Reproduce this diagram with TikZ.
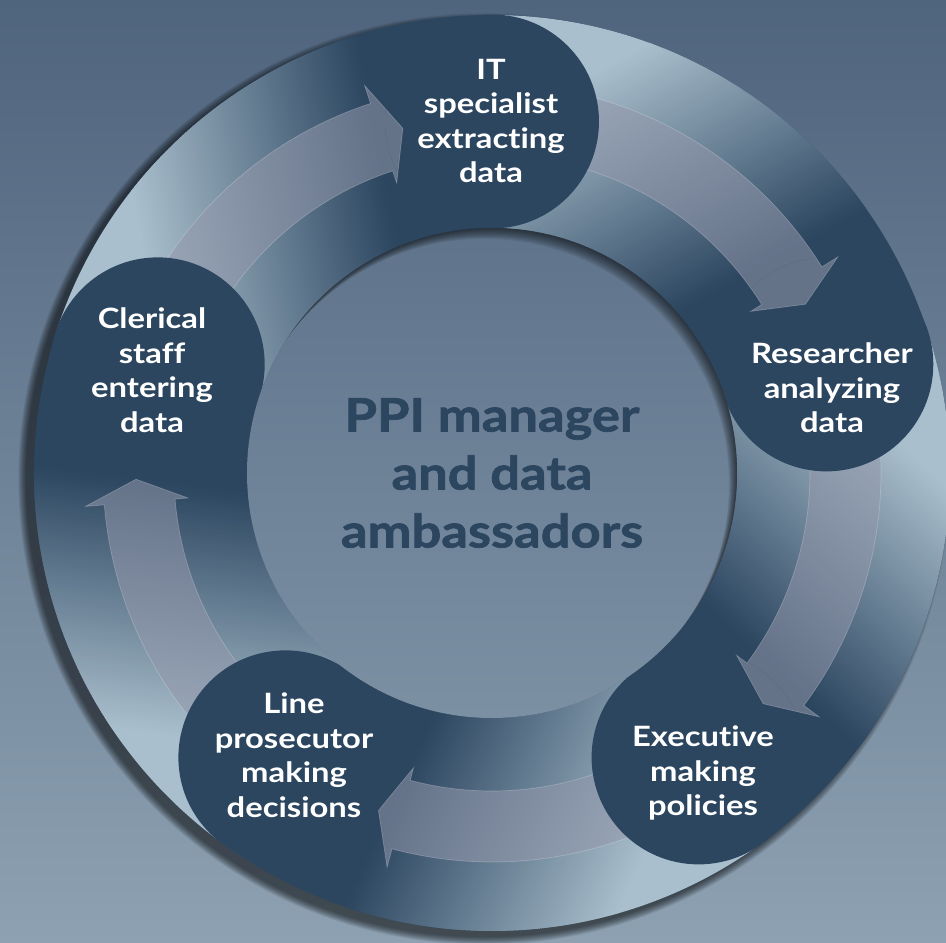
\documentclass[tikz,border=0pt]{standalone}
\usepackage{fontspec}
\setmainfont{Lato}[FakeStretch=1.17, Ligatures=NoCommon]
\newfontfamily\ctrfont{Lato}[FakeStretch=1.14, Ligatures=NoCommon, BoldFeatures={FakeBold=1.6}]
\usetikzlibrary{calc}
\definecolor{bgtop}{RGB}{79,100,125}
\definecolor{bgbot}{RGB}{141,161,178}
\definecolor{nodec}{RGB}{44,70,96}
\definecolor{bandlight}{RGB}{170,191,205}
\definecolor{disctop}{RGB}{95,116,139}
\definecolor{discbot}{RGB}{124,144,164}
\definecolor{arrowc}{RGB}{148,152,172}
\newcommand\arcarrowpath[2]{%
  ({#1-8}:389) arc[start angle={#1-8}, end angle={#2+3.7}, radius=389]
  -- ({#2+3.7}:408) -- (#2:356) -- ({#2+3.7}:305) -- ({#2+3.7}:318)
  arc[start angle={#2+3.7}, end angle={#1-8}, radius=318] -- cycle}
\begin{document}
\begin{tikzpicture}[x=1pt,y=1pt,
  lbl/.style={text=white, font=\bfseries\fontsize{28}{34.5}\selectfont, align=center, inner sep=0pt},
  ctr/.style={text=nodec, font=\ctrfont\bfseries\fontsize{46}{58}\selectfont, align=center, inner sep=0pt},
  stage/.style={circle, fill=nodec, minimum size=214pt, inner sep=0pt},
  arr/.style={fill=arrowc, fill opacity=0.55, draw=white, draw opacity=0.22, line width=0.7pt}]
\useasboundingbox (-492,-470) rectangle (454,473);
% background
\shade[top color=bgtop, bottom color=bgbot] (-492,-470) rectangle (454,473);
% outer shadow of the ring (falls to the lower left)
\foreach \k in {0,...,11}
  \fill[black, opacity=0.06] (-8,-6) circle ({458+0.7*\k});
% band segments with gradient
\foreach \sa in {90,18,-54,-126,-198} {
  \pgfmathsetmacro\se{\sa-72}
  \pgfmathsetmacro\Ax{458*cos(\sa-20)}
  \pgfmathsetmacro\Ay{458*sin(\sa-20)}
  \pgfmathsetmacro\Bx{351.5*cos(\se)}
  \pgfmathsetmacro\By{351.5*sin(\se)}
  \pgfmathsetmacro\glen{veclen(\Bx-\Ax,\By-\Ay)}
  \pgfmathsetmacro\gang{atan2(\By-\Ay,\Bx-\Ax)}
  \begin{scope}
    \clip (\sa:458) arc[start angle=\sa, end angle={\se-0.5}, radius=458]
      -- ({\se-0.5}:245) arc[start angle={\se-0.5}, end angle=\sa, radius=245] -- cycle;
    \begin{scope}[shift={(\Ax,\Ay)}, rotate=\gang]
      \fill[nodec] (-1000,-1000) rectangle (1000,1000);
      \fill[bandlight] (-1000,-1000) rectangle (1,1000);
      \foreach \k in {0,...,135} {
        \pgfmathsetmacro\tt{0.005*\k}
        \pgfmathsetmacro\pp{100*\tt/0.68}
        \fill[nodec!\pp!bandlight] ({\tt*\glen},-1000) rectangle ({(\tt+0.005)*\glen+1},1000);
      }
    \end{scope}
  \end{scope}
}
% arrows (full)
\foreach \sa/\tp in {90/28.3, 18/-40.4, -54/-108.6, -126/-179, -198/-255.5}
  \path[arr] \arcarrowpath{\sa}{\tp};
% stage circles
\node[stage] (n0) at (90:351.5) {};
\node[stage] (n1) at (18:351.5) {};
\node[stage] (n2) at (-54:351.5) {};
\node[stage] (n3) at (-126:351.5) {};
\node[stage] (n4) at (162:351.5) {};
% arrow heads over the next stage
\foreach \sa/\tp/\nx in {90/28.3/n1, 18/-40.4/n2, -54/-108.6/n3, -126/-179/n4, -198/-255.5/n0} {
  \begin{scope}
    \clip (\nx.center) circle (107);
    \path[arr] \arcarrowpath{\sa}{\tp};
  \end{scope}
}
% inner disc
\shade[top color=disctop, bottom color=discbot] (0,0) circle (245);
\begin{scope}
  \clip (0,0) circle (245);
  \foreach \k in {1,...,10}
    \fill[black, opacity=0.07, even odd rule] (0,0) circle (250) ({-0.8*\k},{-1.1*\k}) circle (245);
\end{scope}
% texts
\node[ctr] (ppi) at (0,0) {PPI manager\\and data\\ambassadors};
\node[lbl] (t0) at (-1,352) {IT\\specialist\\extracting\\data};
\node[lbl] (t1) at (340,85) {Researcher\\analyzing\\data};
\node[lbl] (t2) at (211,-300) {Executive\\making\\policies};
\node[lbl] (t3) at (-198,-282) {Line\\prosecutor\\making\\decisions};
\node[lbl] (t4) at (-340,103) {Clerical\\staff\\entering\\data};
\end{tikzpicture}
\end{document}
